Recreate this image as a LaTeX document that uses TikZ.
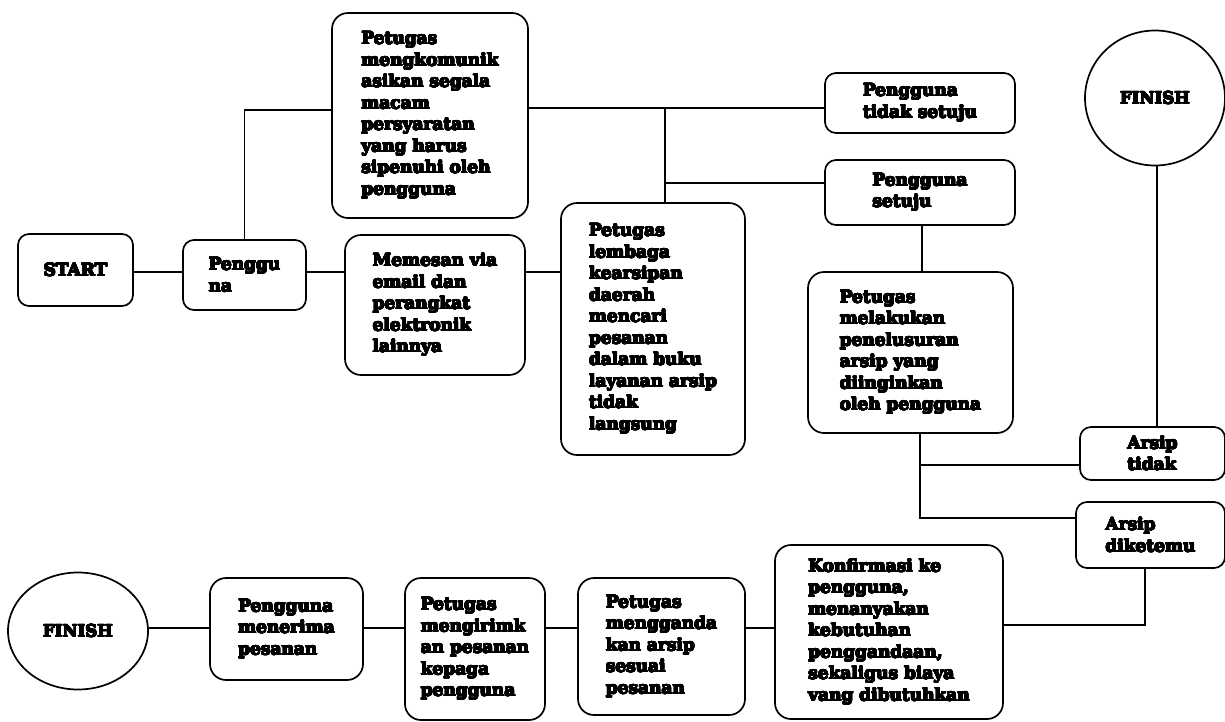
\documentclass[tikz,border=0pt]{standalone}
\usepackage{fontspec}
\setmainfont{DejaVu Serif}
\usepackage{contour}
\contourlength{0.45pt}
\contournumber{20}
\newcommand\hv[1]{\contour{black}{#1}}
\usetikzlibrary{shapes.geometric,calc}
\begin{document}
\begin{tikzpicture}[x=1pt,y=-1pt,
  box/.style={draw, line width=1.7pt, rounded corners=16pt, align=left, inner sep=0pt,
    font=\bfseries\fontsize{17}{21.5}\selectfont},
  sbox/.style={box, rounded corners=11pt},
  oval/.style={draw, line width=1.7pt, ellipse, inner sep=0pt, font=\bfseries\fontsize{16.5}{18}\selectfont},
  conn/.style={line width=1.7pt}]
\useasboundingbox (0,0) rectangle (1225,721);
% nodes
\node[sbox, minimum width=115pt, minimum height=72pt] (start) at (75.5,270) {\hv{START}};
\node[sbox, minimum width=123pt, minimum height=70pt] (peng) at (244.5,275) {\hv{Penggu}\\\hv{na}};
\node[box, minimum width=180pt, minimum height=140pt] (memesan) at (435,305) {\hv{Memesan via}\\\hv{email dan}\\\hv{perangkat}\\\hv{elektronik}\\\hv{lainnya}};
\node[box, minimum width=196pt, minimum height=205pt] (komunik) at (430,115.5) {\hv{Petugas}\\\hv{mengkomunik}\\\hv{asikan segala}\\\hv{macam}\\\hv{persyaratan}\\\hv{yang harus}\\\hv{sipenuhi oleh}\\\hv{pengguna}};
\node[box, minimum width=184pt, minimum height=252pt] (lembaga) at (653,329) {\hv{Petugas}\\\hv{lembaga}\\\hv{kearsipan}\\\hv{daerah}\\\hv{mencari}\\\hv{pesanan}\\\hv{dalam buku}\\\hv{layanan arsip}\\\hv{tidak}\\\hv{langsung}};
\node[sbox, minimum width=190pt, minimum height=60pt] (tsetuju) at (920,103) {\hv{Pengguna}\\\hv{tidak setuju}};
\node[sbox, minimum width=190pt, minimum height=65pt] (setuju) at (920,192.5) {\hv{Pengguna}\\\hv{setuju}};
\node[oval, minimum width=140pt, minimum height=135pt] (fin1) at (1155,98) {\hv{FINISH}};
\node[box, minimum width=205pt, minimum height=161pt] (telusur) at (910.5,352.5) {\hv{Petugas}\\\hv{melakukan}\\\hv{penelusuran}\\\hv{arsip yang}\\\hv{diinginkan}\\\hv{oleh pengguna}};
\node[sbox, minimum width=145pt, minimum height=53pt] (atidak) at (1152.5,453.5) {\hv{Arsip}\\\hv{tidak}};
\node[sbox, minimum width=149pt, minimum height=66pt] (aketemu) at (1150.5,535) {\hv{Arsip}\\\hv{diketemu}};
\node[oval, minimum width=140pt, minimum height=117pt] (fin2) at (78,631) {\hv{FINISH}};
\node[box, minimum width=153pt, minimum height=102pt] (terima) at (286.5,629) {\hv{Pengguna}\\\hv{menerima}\\\hv{pesanan}};
\node[box, minimum width=140pt, minimum height=142pt] (kirim) at (475,649) {\hv{Petugas}\\\hv{mengirimk}\\\hv{an pesanan}\\\hv{kepaga}\\\hv{pengguna}};
\node[box, minimum width=167pt, minimum height=137pt] (ganda) at (661.5,646.5) {\hv{Petugas}\\\hv{mengganda}\\\hv{kan arsip}\\\hv{sesuai}\\\hv{pesanan}};
\node[box, minimum width=228pt, minimum height=174pt] (konf) at (889,632) {\hv{Konfirmasi ke}\\\hv{pengguna,}\\\hv{menanyakan}\\\hv{kebutuhan}\\\hv{penggandaan,}\\\hv{sekaligus biaya}\\\hv{vang dibutuhkan}};
% junction coordinates
\coordinate (j1) at (665,108);
\coordinate (j2) at (665,183);
\coordinate (j3) at (920,518);
\coordinate (j4) at (920,465);
\coordinate (j5) at (1145,625);
\coordinate (row) at (0,628);
\coordinate (r1) at (0,272);
% connectors
\draw[conn] (start.east |- r1) -- (peng.west |- r1);
\draw[conn] (peng.east |- r1) -- (memesan.west |- r1);
\draw[conn] (memesan.east |- r1) -- (lembaga.west |- r1);
\draw[conn] (peng.north) |- (komunik.west |- 0,110);
\draw[conn] (komunik.east |- j1) -- (j1) -- (j1 -| tsetuju.west);
\draw[conn] (j1) -- (j1 |- lembaga.north);
\draw[conn] (j2) -- (j2 -| setuju.west);
\draw[conn] (setuju.south -| 922,0) -- (telusur.north -| 922,0);
\draw[conn] (fin1.south -| 1157,0) -- (atidak.north -| 1157,0);
\draw[conn] (telusur.south -| j3) -- (j3) -- (j3 -| aketemu.west);
\draw[conn] (j4) -- (j4 -| atidak.west);
\draw[conn] (aketemu.south -| j5) -- (j5) -- (j5 -| konf.east);
\draw[conn] (konf.west |- row) -- (ganda.east |- row);
\draw[conn] (ganda.west |- row) -- (kirim.east |- row);
\draw[conn] (kirim.west |- row) -- (terima.east |- row);
\draw[conn] (terima.west |- row) -- (fin2.east |- row);
\end{tikzpicture}
\end{document}
